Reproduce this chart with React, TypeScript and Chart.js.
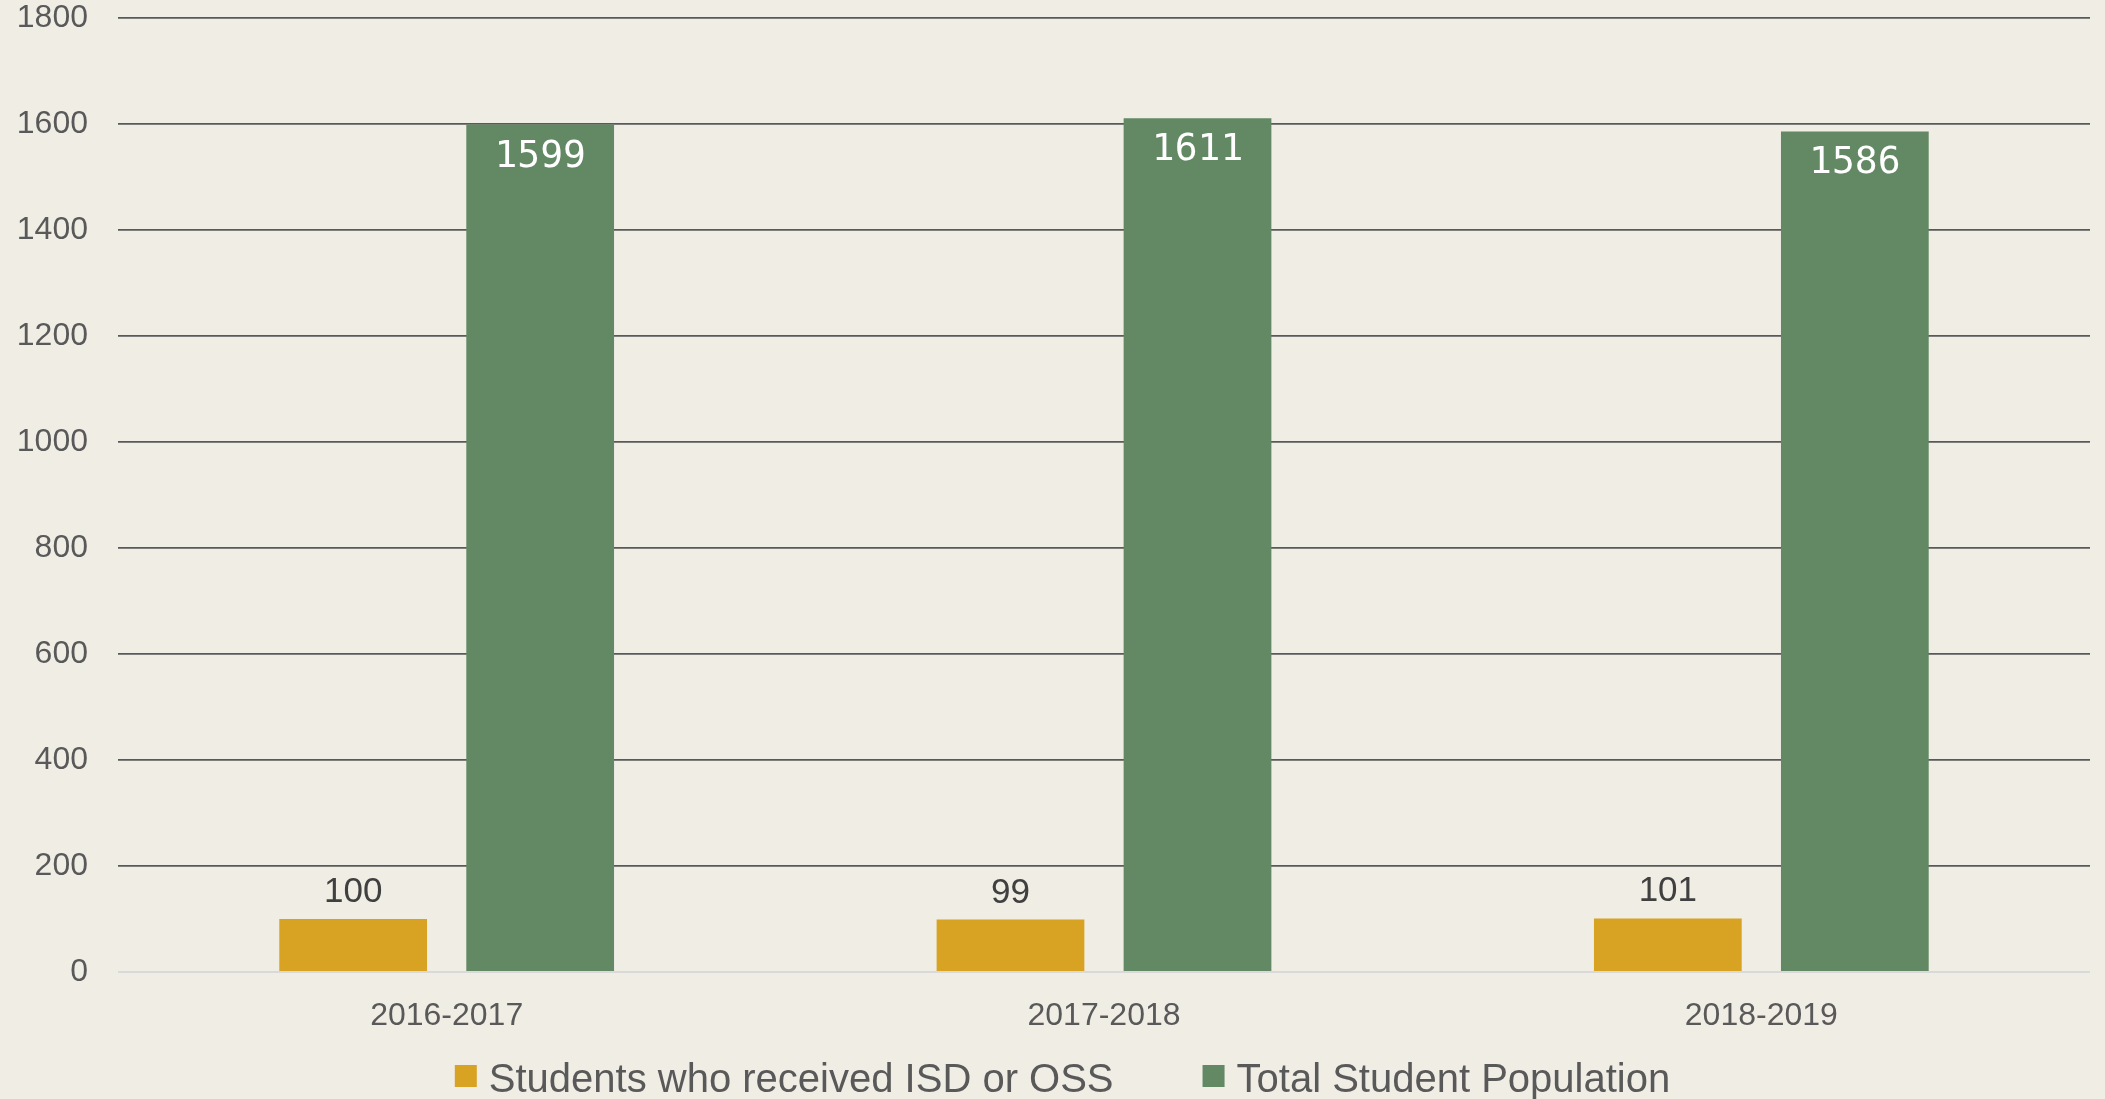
import React, { useEffect, useRef } from "react";
import { Chart, registerables } from "chart.js";

Chart.register(...registerables);

const categories = ["2016-2017", "2017-2018", "2018-2019"];
const seriesNames = ["Students who received ISD or OSS", "Total Student Population"];
const isdOssValues = [100, 99, 101];
const totalValues = [1599, 1611, 1586];
const yMin = 0;
const yMax = 1800;
const yStep = 200;

const BG = "#F0EDE5";
const YELLOW = "#D8A222";
const GREEN = "#628864";
const SANS = "'Liberation Sans', Arial, sans-serif";
const MONO = "'DejaVu Sans Mono', monospace";

const valueLabels = {
  id: "valueLabels",
  afterDatasetsDraw(chart: any) {
    const ctx = chart.ctx;
    chart.data.datasets.forEach((ds: any, di: number) => {
      const meta = chart.getDatasetMeta(di);
      meta.data.forEach((el: any, i: number) => {
        const v = ds.data[i];
        const { x, y } = el.getProps(["x", "y"], true);
        ctx.save();
        ctx.textAlign = "center";
        ctx.textBaseline = "alphabetic";
        if (di === 0) {
          ctx.font = `35px ${SANS}`;
          ctx.fillStyle = "#404040";
          ctx.fillText(String(v), x, y - 17);
        } else {
          ctx.font = `38px ${MONO}`;
          ctx.fillStyle = "#FFFFFF";
          ctx.fillText(String(v), x, y + 42);
        }
        ctx.restore();
      });
    });
  },
};

const customLegend = {
  id: "customLegend",
  afterDraw(chart: any) {
    const ctx = chart.ctx;
    const ds = chart.data.datasets;
    ctx.save();
    ctx.font = `40px ${SANS}`;
    const box = 22;
    const gapBoxText = 12;
    const gapItems = 89;
    const widths = ds.map((d: any) => ctx.measureText(d.label).width);
    let total = 0;
    widths.forEach((w: number, i: number) => {
      total += box + gapBoxText + w + (i > 0 ? gapItems : 0);
    });
    let x = chart.width / 2 + 10 - total / 2;
    const baseline = 1092;
    ds.forEach((d: any, i: number) => {
      ctx.fillStyle = d.backgroundColor;
      ctx.fillRect(x, 1065, box, box);
      x += box + gapBoxText;
      ctx.fillStyle = "#595959";
      ctx.textAlign = "left";
      ctx.textBaseline = "alphabetic";
      ctx.fillText(d.label, x, baseline);
      x += widths[i] + gapItems;
    });
    ctx.restore();
  },
};

export default function App() {
  const canvasRef = useRef<HTMLCanvasElement | null>(null);

  useEffect(() => {
    document.body.style.margin = "0";
    document.body.style.background = BG;
    const canvas = canvasRef.current;
    if (!canvas) return;
    const chart = new Chart(canvas, {
      type: "bar",
      data: {
        labels: categories,
        datasets: [
          {
            label: seriesNames[0],
            data: isdOssValues,
            backgroundColor: YELLOW,
            categoryPercentage: 0.569,
            barPercentage: 0.79,
          },
          {
            label: seriesNames[1],
            data: totalValues,
            backgroundColor: GREEN,
            categoryPercentage: 0.569,
            barPercentage: 0.79,
          },
        ],
      },
      options: {
        animation: false,
        responsive: true,
        maintainAspectRatio: false,
        layout: { padding: { top: 18, right: 15, bottom: 67, left: 0 } },
        plugins: {
          legend: { display: false },
          tooltip: { enabled: false },
        },
        scales: {
          x: {
            grid: { display: false },
            border: { display: false },
            ticks: {
              color: "#595959",
              font: { family: SANS, size: 32 },
              padding: 17,
            },
            afterFit(scale: any) {
              scale.height = 60;
              scale.paddingLeft = 0;
              scale.paddingRight = 0;
            },
          },
          y: {
            min: yMin,
            max: yMax,
            ticks: {
              stepSize: yStep,
              color: "#595959",
              font: { family: SANS, size: 32 },
              padding: 30,
              callback: (v: any) => String(v),
            },
            grid: {
              drawTicks: false,
              color: (c: any) => (c.tick && c.tick.value === 0 ? "#D9D9D9" : "#595959"),
              lineWidth: (c: any) => (c.tick && c.tick.value === 0 ? 2 : 1.8),
            },
            border: { display: false },
            afterFit(scale: any) {
              scale.width = 118;
              scale.paddingTop = 0;
              scale.paddingBottom = 0;
            },
          },
        },
      },
      plugins: [valueLabels, customLegend],
    });
    return () => chart.destroy();
  }, []);

  return (
    <div style={{ position: "relative", width: "2105px", height: "1099px", background: BG }}>
      <canvas ref={canvasRef} />
    </div>
  );
}
